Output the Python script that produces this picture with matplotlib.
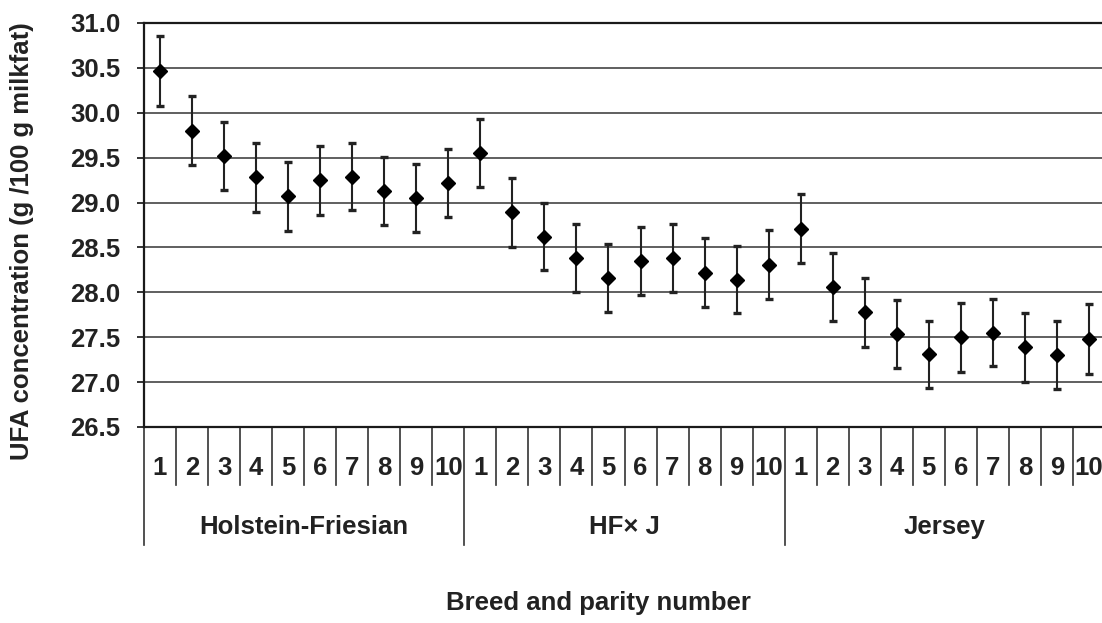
import matplotlib
matplotlib.use("Agg")
import matplotlib.pyplot as plt
import numpy as np

plt.rcParams['font.family'] = ['Liberation Sans', 'DejaVu Sans']
plt.rcParams['font.weight'] = 'bold'

# UFA concentration by breed and parity, mean and standard error
breeds = ['Holstein-Friesian', 'HF\u00d7 J', 'Jersey']
parities = ['1', '2', '3', '4', '5', '6', '7', '8', '9', '10']

hf_mean = [30.46, 29.80, 29.52, 29.28, 29.07, 29.25, 29.29, 29.13, 29.05, 29.22]
hfj_mean = [29.55, 28.89, 28.62, 28.38, 28.16, 28.35, 28.38, 28.22, 28.14, 28.31]
jer_mean = [28.71, 28.06, 27.78, 27.54, 27.31, 27.50, 27.55, 27.39, 27.30, 27.48]

hf_se = [0.39, 0.385, 0.38, 0.385, 0.385, 0.385, 0.375, 0.38, 0.38, 0.38]
hfj_se = [0.38, 0.38, 0.375, 0.38, 0.38, 0.38, 0.38, 0.38, 0.375, 0.38]
jer_se = [0.38, 0.38, 0.385, 0.38, 0.375, 0.385, 0.375, 0.385, 0.38, 0.39]

means = hf_mean + hfj_mean + jer_mean
ses = hf_se + hfj_se + jer_se
n = len(means)
x = np.arange(n)

FS = 18.5
TXT = '#222222'

W, H = 1102, 623
fig = plt.figure(figsize=(W / 100, H / 100), dpi=100)
# axes runs slightly past the right edge of the figure
ax = fig.add_axes([144 / W, (H - 427) / H, 961 / W, 404 / H])

ax.errorbar(x, means, yerr=ses, fmt='D', color='black', markersize=7,
            ecolor='#222222', elinewidth=1.5, capsize=3, capthick=2.4, zorder=3)

ax.set_xlim(-0.5, n - 0.5)
ax.set_ylim(26.5, 31.0)
yt = np.arange(26.5, 31.01, 0.5)
ax.set_yticks(yt)
ax.set_yticklabels([f'{v:.1f}' for v in yt], fontsize=FS, fontweight='bold', color=TXT)
ax.tick_params(axis='y', direction='out', length=5, width=1.3, color='#222222', pad=12)
ax.set_xticks([])

ax.yaxis.grid(True, color='#444444', linewidth=1.2)
ax.set_axisbelow(True)
for s in ['top', 'left', 'bottom']:
    ax.spines[s].set_color('#1a1a1a')
    ax.spines[s].set_linewidth(1.6)
ax.spines['right'].set_visible(False)

# category axis below the plot: parity numbers and breed groups
tr = ax.get_xaxis_transform()
short_y = -58 / 404
long_y = -118 / 404
for i in range(n + 1):
    xb = i - 0.5
    ybot = long_y if i % 10 == 0 else short_y
    ax.plot([xb, xb], [0, ybot], transform=tr, color='#333333', linewidth=1.2,
            clip_on=False)
for i in range(n):
    ax.text(x[i], -41 / 404, parities[i % 10], transform=tr, ha='center', va='center',
            fontsize=FS, fontweight='bold', color=TXT)
for g, name in enumerate(breeds):
    ax.text(g * 10 + 4.5, -100 / 404, name, transform=tr, ha='center', va='center',
            fontsize=FS, fontweight='bold', color=TXT)

fig.text(22 / W, 1 - 241 / H, 'UFA concentration (g /100 g milkfat)', rotation=90,
         ha='center', va='center', fontsize=FS, fontweight='bold', color=TXT)
fig.text(598 / W, 1 - 603 / H, 'Breed and parity number', ha='center', va='center',
         fontsize=FS, fontweight='bold', color=TXT)

fig.savefig('out.png', dpi=100)
